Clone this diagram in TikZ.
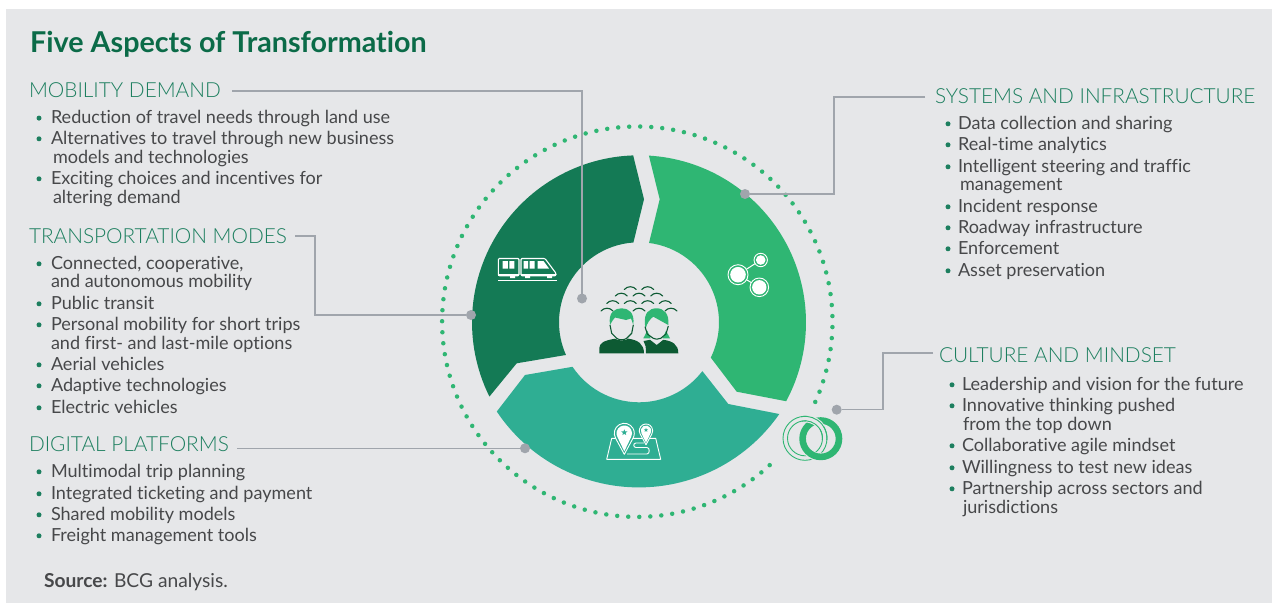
\documentclass[tikz,border=0pt]{standalone}
\usepackage{fontspec}
\setmainfont{Lato}[RawFeature=-liga]
\newfontfamily\headfont{Lato Light}[RawFeature=-liga]
\usetikzlibrary{shapes.geometric,calc}
\definecolor{pagebg}{HTML}{E6E7E9}
\definecolor{darkseg}{HTML}{147A55}
\definecolor{lightseg}{HTML}{2FB673}
\definecolor{tealseg}{HTML}{2FAE93}
\definecolor{titlegreen}{HTML}{0B6B48}
\definecolor{headgreen}{HTML}{1D7F5F}
\definecolor{bodygray}{HTML}{47484A}
\definecolor{leader}{HTML}{A0A5AC}
\definecolor{peopledark}{HTML}{0D5A33}
\newcount\txtc
\newcommand{\ltxt}[3]{\global\advance\txtc by 1 \node[bodytext] (t\the\txtc) at (#1,#2) {#3};}
\newcommand{\bitem}[4]{\fill[headgreen] (#1,#3-5.2) circle (2.5); \ltxt{#2}{#3}{#4}}
\newcommand{\seagull}[2]{\draw[peopledark,line width=1.1pt,line cap=round] (#1-6,#2+2.5) .. controls (#1-3,#2-1.2) and (#1+3,#2-1.2) .. (#1+6,#2+2.5);}
\newcommand{\mappin}[3]{%
 \fill[tealseg] ($(#1,#2)+(150:#3*1pt)$) arc (150:390:#3*1pt) -- (#1,#2+2.1*#3) -- cycle;
 \draw[white,line width=.9pt,line join=round] ($(#1,#2)+(150:#3*1pt)$) arc (150:390:#3*1pt) -- (#1,#2+2.1*#3) -- cycle;
 \fill[white] ($(#1,#2)+(150:#3*0.78pt)$) arc (150:390:#3*0.78pt) -- (#1,#2+1.8*#3) -- cycle;}
\tikzset{
 bodytext/.style={anchor=base west,inner sep=0pt,outer sep=0pt,text=bodygray,font=\fontsize{18.05}{20}\selectfont},
 headtext/.style={anchor=base west,inner sep=0pt,outer sep=0pt,text=headgreen,font=\headfont\fontsize{20.8}{23}\selectfont},
 leadline/.style={draw=leader,line width=1.2pt},
 leaddot/.style={circle,fill=leader,minimum size=10pt,inner sep=0pt,outer sep=0pt},
 iconw/.style={white,line width=1.1pt,line join=round},
}
\begin{document}
\begin{tikzpicture}[x=1pt,y=1pt,yscale=-1]
\useasboundingbox (0,0) rectangle (1272,603);
\fill[white] (0,0) rectangle (1272,603);
\fill[pagebg] (6,9) rectangle (1272,603);
% title
\node[anchor=base west,inner sep=0pt,text=titlegreen,font=\bfseries\fontsize{28.7}{30}\selectfont] (title) at (30,52) {Five Aspects of Transformation};
% dotted circle
\foreach \i in {0,...,104}{
  \pgfmathsetmacro{\a}{47.3+\i*3.24}
  \fill[lightseg] ({637.3+195.2*cos(\a)},{321.7+195.2*sin(\a)}) circle (2.25);
}
% segments
\coordinate (c) at (639,322.3);
\fill[darkseg] ($(c)+(268:167pt)$) -- (644,199.3) -- ($(c)+(266:80pt)$) arc (266:155.9:80pt) -- (516.7,363.3) -- ($(c)+(153.6:167pt)$) arc (153.6:268:167pt) -- cycle;
\fill[lightseg] ($(c)+(-86.6:167pt)$) -- (659.7,199.3) -- ($(c)+(-82.8:80pt)$) arc (-82.8:26.2:80pt) -- (736.7,391.7) -- ($(c)+(28.2:167pt)$) arc (28.2:-86.6:167pt) -- cycle;
\fill[tealseg] (779.3,414) arc (34.8:146.2:171pt) -- (525,375) -- ($(c)+(146.2:80pt)$) arc (146.2:37.6:80pt) -- (728.3,404) -- cycle;
% train
\draw[iconw,rounded corners=1pt] (498.3,258.5) rectangle (519,275.7);
\fill[white] (498.3,273.5) rectangle (519,275.7);
\fill[white] (502.5,261) rectangle (507.8,268.5) (509.3,261) rectangle (514.4,268.5);
\draw[iconw,rounded corners=1pt] (521,258.5) -- (545,258.5) -- (556,273.3) -- (556,275.7) -- (521,275.7) -- cycle;
\fill[white] (521,273.5) -- (555.5,273.5) -- (555.5,275.7) -- (521,275.7) -- cycle;
\fill[white] (523.5,261) rectangle (528,268.5) (529.5,261) rectangle (534.5,268.5) (537.5,261) -- (543.5,261) -- (549,268.5) -- (537.5,268.5) -- cycle;
\fill[white] (510,276) rectangle (515,278) (525,276) rectangle (530,278) (547,276) rectangle (552,278);
\draw[white,line width=1.2pt] (498,280.3) -- (557,280.3);
% share icon
\draw[white,line width=1pt] (738,274.7) -- (760.7,260) (738,274.7) -- (759.3,287.3);
\fill[lightseg] (738,274.7) circle (10) (760.7,260) circle (6.7) (759.3,287.3) circle (9.3);
\draw[white,line width=.9pt] (738,274.7) circle (10) (760.7,260) circle (6.7) (759.3,287.3) circle (9.3);
\fill[white] (738,274.7) circle (7.8) (760.7,260) circle (4.8) (759.3,287.3) circle (7.2);
% map icon
\draw[iconw,line width=.9pt] (611.7,438.3) -- (655.7,438.3) -- (660.7,459.3) -- (606.7,459.3) -- cycle;
\draw[iconw,line width=.9pt,fill=none] (627,454) -- (647,454) .. controls (650,454) and (650,447.5) .. (647,447.5) -- (636,447.5) .. controls (633,447.5) and (633,443) .. (636,443) -- (644,443);
\mappin{624.3}{433.3}{10}
\mappin{646}{430.7}{6.7}
\node[star,star points=5,star point ratio=2.4,fill=tealseg,minimum size=6.5pt,inner sep=0pt] (s1) at (624.3,432.5) {};
\node[star,star points=5,star point ratio=2.4,fill=tealseg,minimum size=4.5pt,inner sep=0pt] (s2) at (646,430) {};
% rings
\coordinate (rl) at (805,438.3);
\coordinate (rr) at (820.8,438.7);
\draw[lightseg,line width=.9pt] (rl) circle (22) (rl) circle (17.5);
\fill[pagebg,even odd rule] (rr) circle (22.6) (rr) circle (14);
\draw[lightseg,line width=6.6pt] (rr) circle (18.2);
\draw[pagebg,line width=7.6pt] ($(rl)+(-85:19.75pt)$) arc (-85:-32:19.75pt);
\draw[lightseg,line width=.9pt] ($(rl)+(-100:22pt)$) arc (-100:5:22pt) ($(rl)+(-100:17.5pt)$) arc (-100:5:17.5pt);
% people
\seagull{630.3}{287}\seagull{647.7}{287}
\seagull{621.3}{293.5}\seagull{639}{293.5}\seagull{656.7}{293.5}
\seagull{612.7}{301}\seagull{630.3}{301}\seagull{647.7}{301}\seagull{665.3}{301}
\seagull{607}{308.5}\seagull{639}{308.5}\seagull{671}{308.5}
% man
\fill[peopledark] (599.3,353.3) -- (599.3,348) .. controls (599.5,343) and (604,340.5) .. (615,338.7) .. controls (618,341) and (625,341) .. (628.3,338.7) .. controls (638,340) and (644,344) .. (644,353.3) -- cycle;
\fill[lightseg] (610,325) .. controls (608,312) and (615,308.3) .. (621.7,308.3) .. controls (628,308.3) and (635,312) .. (633.3,325) .. controls (632,322) and (632,320) .. (631,318.5) -- (626,320) -- (615,317.5) .. controls (613,319) and (612,322) .. (610,325) -- cycle;
\draw[peopledark,line width=1.1pt,line join=round] (610,325) -- (611.7,333.3) -- (616.7,338.3) .. controls (619,340.3) and (624,340.3) .. (626.7,338.3) -- (631.7,333.3) -- (633.3,325);
% woman
\fill[lightseg] (647.3,330.7) -- (643.3,338.3) -- (650.7,338.3) -- cycle (666,330.7) -- (670,338.3) -- (662.7,338.3) -- cycle;
\fill[peopledark] (646,353.3) .. controls (646,347) and (645.5,344) .. (643.5,341) -- (650,339.8) -- (656.7,345) -- (663.3,339.8) .. controls (672,341) and (678.3,344) .. (678.3,353.3) -- cycle;
\fill[lightseg] (645,325) .. controls (643.5,313) and (649,308.3) .. (656.7,308.3) .. controls (664,308.3) and (669.5,314) .. (668.3,325) -- (653.3,316.7) .. controls (650,319) and (647,323) .. (645.5,329) -- cycle;
\draw[peopledark,line width=1.1pt,line join=round] (645,326.7) -- (647.3,334) -- (653.3,338.3) .. controls (655,339.5) and (658,339.5) .. (660.7,338.3) -- (666,334) -- (668.3,326);
% headings
\node[headtext] (h1) at (29,97.5) {MOBILITY DEMAND};
\node[headtext] (h2) at (29,243.5) {TRANSPORTATION MODES};
\node[headtext] (h3) at (29,451.5) {DIGITAL PLATFORMS};
\node[headtext] (h4) at (935,103.5) {SYSTEMS AND INFRASTRUCTURE};
\node[headtext] (h5) at (939,362.5) {CULTURE AND MINDSET};
% leaders
\coordinate (l1) at (232,91);
\coordinate (l2) at (295,236);
\coordinate (l3) at (237,448.3);
\coordinate (l4) at (925,97);
\coordinate (l5) at (933,353);
\node[leaddot] (d1) at (582,298.5) {};
\node[leaddot] (d2) at (471,315) {};
\node[leaddot] (d3) at (525,448.3) {};
\node[leaddot] (d4) at (745,194) {};
\node[leaddot] (d5) at (836.7,409.7) {};
\draw[leadline] (l1) -| (d1);
\draw[leadline] (l2) -- (315,236) |- (d2);
\draw[leadline] (l3) -- (d3);
\draw[leadline] (l4) -- (834,97) |- (d4);
\draw[leadline] (l5) -- (883,353) |- (d5);
% left text
\bitem{39}{51}{123.3}{Reduction of travel needs through land use}
\bitem{39}{51}{144}{Alternatives to travel through new business}
\ltxt{53}{163}{models and technologies}
\bitem{39}{51}{184}{Exciting choices and incentives for}
\ltxt{53}{203}{altering demand}
\bitem{39}{51}{269}{Connected, cooperative,}
\ltxt{51}{287}{and autonomous mobility}
\bitem{39}{51}{309}{Public transit}
\bitem{39}{51}{330}{Personal mobility for short trips}
\ltxt{51}{349}{and first- and last-mile options}
\bitem{39}{51}{370}{Aerial vehicles}
\bitem{39}{51}{391}{Adaptive technologies}
\bitem{39}{51}{413}{Electric vehicles}
\bitem{39}{51}{477}{Multimodal trip planning}
\bitem{39}{51}{499}{Integrated ticketing and payment}
\bitem{39}{51}{520}{Shared mobility models}
\bitem{39}{51}{541}{Freight management tools}
\ltxt{44}{587}{\fontsize{19.2}{21}\selectfont\textbf{Source:} BCG analysis.}
% right text
\bitem{948}{958}{129}{Data collection and sharing}
\bitem{948}{958}{150}{Real-time analytics}
\bitem{948}{958}{172}{Intelligent steering and traffic}
\ltxt{960}{190}{management}
\bitem{948}{958}{212}{Incident response}
\bitem{948}{958}{233}{Roadway infrastructure}
\bitem{948}{958}{254}{Enforcement}
\bitem{948}{958}{276}{Asset preservation}
\bitem{952}{962}{390}{Leadership and vision for the future}
\bitem{952}{962}{411}{Innovative thinking pushed}
\ltxt{963}{430}{from the top down}
\bitem{952}{962}{451}{Collaborative agile mindset}
\bitem{952}{962}{473}{Willingness to test new ideas}
\bitem{952}{962}{494}{Partnership across sectors and}
\ltxt{963}{513}{jurisdictions}
\end{tikzpicture}
\end{document}
